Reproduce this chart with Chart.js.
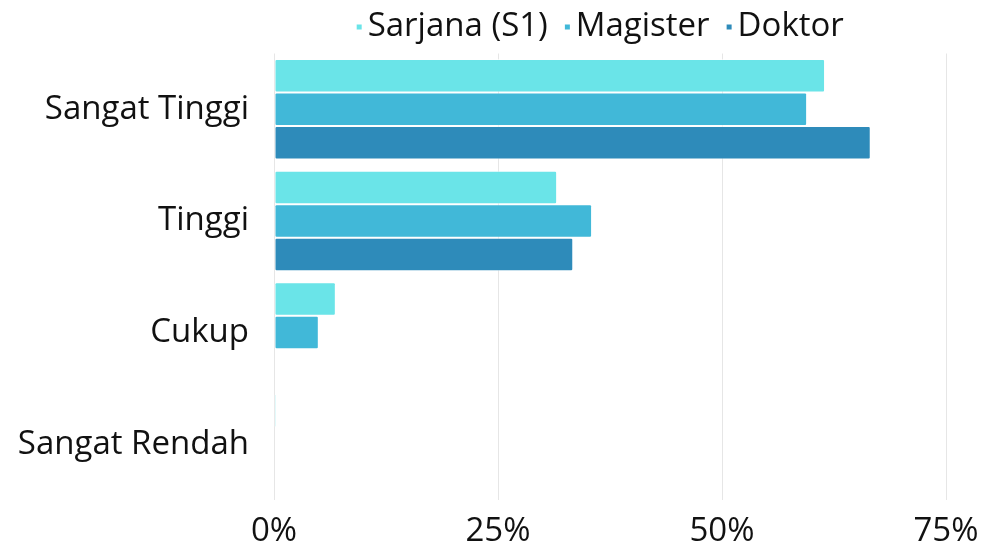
<!DOCTYPE html>
<html>
<head>
<meta charset="utf-8">
<script src="https://cdn.jsdelivr.net/npm/chart.js@4"></script>
<style>
  html, body { margin: 0; padding: 0; background: #fff; }
  #wrap { width: 981px; height: 547px; }
</style>
</head>
<body>
<div id="wrap"><canvas id="grafico"></canvas></div>
<script>
// categorias e valores (%)
const kategori = ["Sangat Tinggi", "Tinggi", "Cukup", "Sangat Rendah"];
const sarjana = [61.5, 31.6, 6.9, 0.3];
const magister = [59.5, 35.5, 5.0, 0];
const doktor = [66.6, 33.4, 0, 0];
const tickPersen = [0, 25, 50, 75];
const cores = ["#6ae4e8", "#41b8d8", "#2e8bba"];

const fonte = "'Open Sans', sans-serif";

// marcador da legenda: quadradinho encostado no texto
function marcador(cor) {
  const c = document.createElement("canvas");
  c.width = 24;
  c.height = 6;
  const g = c.getContext("2d");
  g.fillStyle = cor;
  g.fillRect(18, 0.5, 5, 5);
  return c;
}

// puxa a legenda um pouco para a esquerda
const moverLegenda = {
  id: "moverLegenda",
  afterLayout(chart) {
    if (chart.legend) {
      chart.legend.left -= 13;
      chart.legend.right -= 13;
    }
  }
};

new Chart(document.getElementById("grafico"), {
  type: "bar",
  data: {
    labels: kategori,
    datasets: [
      { label: "Sarjana (S1)", data: sarjana, backgroundColor: cores[0] },
      { label: "Magister", data: magister, backgroundColor: cores[1] },
      { label: "Doktor", data: doktor, backgroundColor: cores[2] }
    ]
  },
  plugins: [moverLegenda],
  options: {
    indexAxis: "y",
    responsive: true,
    maintainAspectRatio: false,
    animation: false,
    layout: { padding: { left: 0, right: 0, top: 0, bottom: 0 } },
    datasets: {
      bar: {
        categoryPercentage: 0.9,
        barPercentage: 1,
        borderWidth: 1,
        borderColor: "rgba(255,255,255,0.6)",
        borderRadius: 2,
        borderSkipped: false
      }
    },
    plugins: {
      legend: {
        position: "top",
        fullSize: false,
        labels: {
          usePointStyle: true,
          boxWidth: 1,
          boxHeight: 6,
          padding: 10.5,
          color: "#111",
          font: { family: fonte, size: 33 },
          generateLabels: chart => {
            const itens = Chart.defaults.plugins.legend.labels.generateLabels(chart);
            itens.forEach((it, i) => { it.pointStyle = marcador(cores[i]); });
            return itens;
          }
        }
      },
      tooltip: { enabled: false }
    },
    scales: {
      x: {
        min: 0,
        max: 75,
        afterBuildTicks: axis => { axis.ticks = tickPersen.map(v => ({ value: v })); },
        afterFit: axis => { axis.height = 47; axis.paddingRight = 35; },
        grid: { color: "#e6e6e6", drawTicks: false },
        border: { display: false },
        ticks: {
          padding: 17,
          color: "#111",
          font: { family: fonte, size: 33, lineHeight: 0.9 },
          callback: v => v + "%"
        }
      },
      y: {
        afterFit: axis => { axis.width = 274; },
        grid: { display: false },
        border: { display: false },
        ticks: {
          padding: 17,
          color: "#111",
          font: { family: fonte, size: 33 }
        }
      }
    }
  }
});
</script>
</body>
</html>
